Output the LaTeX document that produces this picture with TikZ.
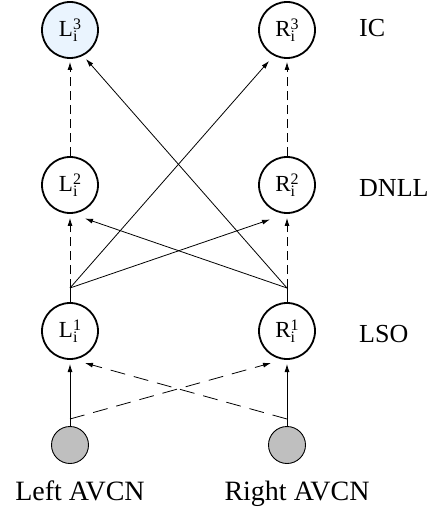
\documentclass[tikz,border=0pt]{standalone}
\usepackage{fontspec}
\setmainfont{Liberation Serif}
\usetikzlibrary{arrows.meta}
\definecolor{paleblue}{HTML}{EAF4FE}
\newcommand\supfont{\fontsize{16}{16}\selectfont}
\newcommand\cellname[2]{#1\makebox[8pt][l]{\rlap{\raisebox{7.6pt}{\supfont #2}}\raisebox{-4.7pt}{\supfont i}}}
\begin{document}
\begin{tikzpicture}[x=1pt,y=-1pt,
  cell/.style={circle,draw,line width=1.8pt,minimum size=56pt,inner sep=0pt,font=\fontsize{23}{23}\selectfont},
  src/.style={circle,draw,line width=0.9pt,fill=black!25,minimum size=37pt,inner sep=0pt},
  lbl/.style={font=\fontsize{26}{26}\selectfont,inner sep=0pt},
  blbl/.style={font=\fontsize{28}{28}\selectfont,inner sep=0pt},
  conn/.style={line width=0.8pt,-{Latex[length=8pt,width=5pt]}},
  dashconn/.style={conn,dash pattern=on 9pt off 5pt},
  longdash/.style={conn,dash pattern=on 15pt off 9pt},
  plain/.style={line width=0.8pt}]
\useasboundingbox (0,0) rectangle (428,510);
% cells
\node[cell,fill=paleblue] (L3) at (70,30) {\cellname{L}{3}};
\node[cell] (R3) at (287,30) {\cellname{R}{3}};
\node[cell] (L2) at (70,185) {\cellname{L}{2}};
\node[cell] (R2) at (287,185) {\cellname{R}{2}};
\node[cell] (L1) at (70,331) {\cellname{L}{1}};
\node[cell] (R1) at (287,331) {\cellname{R}{1}};
\node[src] (SL) at (70,445) {};
\node[src] (SR) at (287,445) {};
% labels
\node[lbl,anchor=base west] (ic) at (359,37) {IC};
\node[lbl,anchor=base west] (dnll) at (359,197) {DNLL};
\node[lbl,anchor=base west] (lso) at (359,342) {LSO};
\node[blbl,anchor=base] (lavcn) at (80,500) {Left AVCN};
\node[blbl,anchor=base] (ravcn) at (297,500) {Right AVCN};
% junctions
\coordinate (JL) at (70,288);
\coordinate (JR) at (287,288);
\coordinate (AL) at (70,419);
\coordinate (AR) at (287,419);
% arrow tips near the cells
\coordinate (L3s) at (70,62);
\coordinate (R3s) at (287,62);
\coordinate (L3d) at (86,59);
\coordinate (R3d) at (269,61);
\coordinate (L2s) at (70,218);
\coordinate (R2s) at (287,218);
\coordinate (L2d) at (85,218.5);
\coordinate (R2d) at (270,219.5);
\coordinate (L1s) at (70,364);
\coordinate (R1s) at (287,364);
\coordinate (L1d) at (85,363);
\coordinate (R1d) at (271,363);
% bottom stage
\draw[conn] (SL) -- (L1s);
\draw[conn] (SR) -- (R1s);
\draw[longdash] (AL) -- (R1d);
\draw[longdash] (AR) -- (L1d);
% middle stage
\draw[plain] (L1) -- (JL);
\draw[plain] (R1) -- (JR);
\draw[dashconn] (JL) -- (L2s);
\draw[dashconn] (JR) -- (R2s);
\draw[conn] (JL) -- (R3d);
\draw[conn] (JL) -- (R2d);
\draw[conn] (JR) -- (L2d);
\draw[conn] (JR) -- (L3d);
% top stage
\draw[dashconn] (L2) -- (L3s);
\draw[dashconn] (R2) -- (R3s);
\end{tikzpicture}
\end{document}
